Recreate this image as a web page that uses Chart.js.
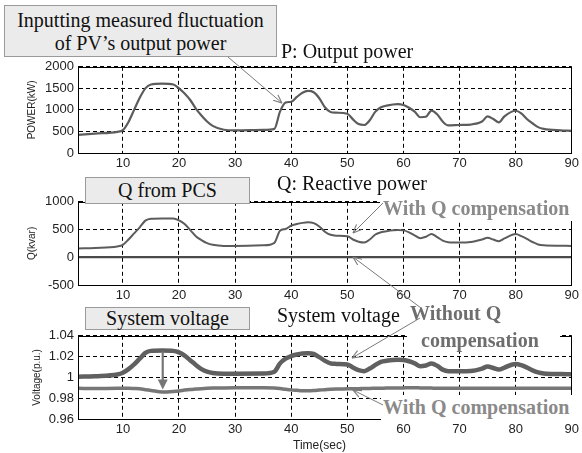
<!DOCTYPE html>
<html>
<head>
<meta charset="utf-8">
<script src="https://cdn.jsdelivr.net/npm/chart.js@4.4.1/dist/chart.umd.min.js"></script>
<style>
  html, body { margin: 0; padding: 0; background: #fff; }
  #wrap { position: relative; width: 582px; height: 453px; overflow: hidden; }
  canvas.plot { position: absolute; left: 0; }
  .note { position: absolute; font-family: "Liberation Serif", "Times New Roman", serif; font-size: 20px; color: #111; white-space: nowrap; }
  .box { background: #ebebeb; border: 1px solid #9a9a9a; box-sizing: border-box; text-align: center; }
  .tag { background: #fff; font-weight: bold; color: #8a8a8a; }
  .axis-name { position: absolute; font-family: "Liberation Sans", Arial, sans-serif; font-size: 12px; color: #222; white-space: nowrap; }
  #arrows { position: absolute; left: 0; top: 0; }
</style>
</head>
<body>
<div id="wrap">
  <canvas id="powerChart" class="plot"></canvas>
  <canvas id="reactiveChart" class="plot"></canvas>
  <canvas id="voltageChart" class="plot"></canvas>

  <div class="note box" style="left:4px;top:5px;width:273px;height:52px;line-height:23px;padding-top:3px;">Inputting measured fluctuation<br>of PV’s output power</div>
  <div class="note" style="left:281px;top:39px;line-height:24px;">P: Output power</div>

  <div class="note box" style="left:85px;top:177px;width:165px;height:27px;line-height:25px;">Q from PCS</div>
  <div class="note" style="left:277px;top:171px;line-height:24px;">Q: Reactive power</div>
  <div class="note tag" style="left:380px;top:197px;width:196px;height:24px;line-height:22px;padding-left:3px;box-sizing:border-box;">With Q compensation</div>

  <div class="note box" style="left:85px;top:307px;width:165px;height:23px;line-height:21px;">System voltage</div>
  <div class="note" style="left:277px;top:303px;line-height:24px;">System voltage</div>
  <div class="note tag" style="left:407px;top:300px;width:153px;height:51px;color:#6e6e6e;line-height:27px;">
    <span style="padding-left:3px;">Without Q</span><br><span style="padding-left:14px;">compensation</span>
  </div>
  <div class="note tag" style="left:381px;top:395px;width:197px;height:26px;line-height:24px;padding-left:2px;box-sizing:border-box;">With Q compensation</div>

  <div class="axis-name" style="left:293px;top:438px;line-height:14px;">Time(sec)</div>

  <svg id="arrows" width="582" height="453">
    <defs>
      <marker id="vhead" viewBox="0 0 10 10" refX="9.5" refY="5" markerWidth="9" markerHeight="9" orient="auto" markerUnits="userSpaceOnUse">
        <path d="M0,1 L9.5,5 L0,9" fill="none" stroke="#7a7a7a" stroke-width="1.2"/>
      </marker>
    </defs>
    <g stroke="#7a7a7a" stroke-width="1" fill="none" marker-end="url(#vhead)">
      <line x1="228" y1="57" x2="282" y2="103"/>
      <line x1="383" y1="203" x2="353" y2="233"/>
      <line x1="421" y1="308" x2="353" y2="257"/>
      <line x1="420" y1="318" x2="352" y2="358"/>
      <line x1="383" y1="405" x2="353" y2="390"/>
    </g>
  </svg>
</div>

<script>
// three stacked time plots: P, Q, V

/* ==============================
   DATA
============================== */
const timeSec = [2, 5, 9, 10, 11, 12, 13, 14, 15, 17, 19, 20, 21, 22, 23, 24, 25, 26, 28, 30,
  35, 37, 38, 39, 40, 41, 42, 43, 44, 45, 46, 47, 48, 50, 51, 52, 53, 54, 55, 56,
  57, 59, 60, 61, 62, 63, 64, 65, 66, 67, 68, 70, 72, 74, 75, 76, 77, 78, 80, 81,
  82, 83, 84, 85, 88, 90];

const powerKW = [420, 450, 490, 530, 720, 1000, 1280, 1500, 1590, 1610, 1590, 1500, 1380, 1230, 1030, 870, 730, 630, 540, 525,
  535, 560, 960, 1170, 1190, 1300, 1400, 1440, 1410, 1270, 1060, 950, 935, 910, 780, 670, 650, 760, 960, 1060,
  1100, 1135, 1115, 1050, 960, 830, 840, 985, 900, 730, 640, 650, 660, 730, 850, 790, 710, 850, 980, 920,
  790, 690, 600, 560, 525, 515];

const reactiveWithQ = [160, 168, 195, 225, 320, 430, 540, 660, 695, 700, 700, 665, 600, 490, 380, 310, 255, 225, 205, 205,
  215, 260, 480, 510, 570, 600, 620, 630, 615, 555, 460, 405, 390, 380, 320, 280, 265, 320, 410, 450,
  470, 490, 485, 450, 395, 345, 370, 420, 365, 300, 272, 265, 275, 320, 350, 320, 290, 340, 420, 380,
  330, 275, 230, 215, 208, 205];

const reactiveOffTime = [2, 90];
const reactiveWithoutQ = [3, 3];

const voltWithoutQ = [1.0006, 1.0012, 1.0028, 1.0045, 1.008, 1.0125, 1.018, 1.0235, 1.0255, 1.0258, 1.0255, 1.024, 1.021, 1.0165, 1.012, 1.008, 1.0055, 1.0042, 1.0036, 1.0036,
  1.0038, 1.0055, 1.0135, 1.018, 1.0205, 1.022, 1.023, 1.0232, 1.0225, 1.0195, 1.016, 1.0135, 1.013, 1.0125, 1.0095, 1.007, 1.006, 1.0085, 1.012, 1.015,
  1.016, 1.017, 1.0167, 1.0155, 1.0135, 1.0108, 1.0115, 1.0133, 1.0112, 1.0075, 1.006, 1.006, 1.0062, 1.0085, 1.0105, 1.009, 1.0075, 1.0095, 1.013, 1.0118,
  1.0095, 1.0068, 1.0048, 1.0038, 1.0032, 1.003];

const voltWithQ = [0.9895, 0.9893, 0.9895, 0.9895, 0.9895, 0.9893, 0.989, 0.9882, 0.9875, 0.986, 0.9865, 0.987, 0.9878, 0.9884, 0.9888, 0.9892, 0.9895, 0.9897, 0.9899, 0.99,
  0.99, 0.9898, 0.9893, 0.9886, 0.988, 0.9876, 0.9872, 0.9872, 0.9874, 0.9878, 0.9882, 0.9886, 0.9888, 0.989, 0.9891, 0.9892, 0.9893, 0.9894, 0.9895, 0.9896,
  0.9897, 0.9898, 0.9899, 0.99, 0.99, 0.9899, 0.9898, 0.9897, 0.9896, 0.9896, 0.9896, 0.9896, 0.9896, 0.9896, 0.9896, 0.9896, 0.9896, 0.9896, 0.9896, 0.9896,
  0.9896, 0.9896, 0.9896, 0.9896, 0.9896, 0.9896];

const xTicks = [10, 20, 30, 40, 50, 60, 70, 80, 90];
const powerTicks = [0, 500, 1000, 1500, 2000];
const powerTickLabels = ["0", "500", "1000", "1500", "2000"];
const reactiveTicks = [-500, 0, 500, 1000];
const reactiveTickLabels = ["-500", "0", "500", "1000"];
const voltTicks = [0.96, 0.98, 1.0, 1.02, 1.04];
const voltTickLabels = ["0.96", "0.98", "1", "1.02", "1.04"];

// down arrow in the voltage plot (annotation)
const DROP_T = 17.1, DROP_FROM = 1.025, DROP_TO = 0.9883;

/* ==============================
   HELPERS
============================== */
const SANS = "'Liberation Sans', Arial, sans-serif";
const PAD_TOP = 8;
const X_AXIS_H = 22;

function points(xs, ys) {
  return xs.map((t, i) => ({ x: t, y: ys[i] }));
}

function line(xs, ys, color, width) {
  return {
    data: points(xs, ys),
    borderColor: color,
    borderWidth: width,
    pointRadius: 0,
    cubicInterpolationMode: "monotone",
    fill: false
  };
}

const framePlugin = {
  id: "frame",
  afterDatasetsDraw(chart) {
    const { ctx, chartArea: a } = chart;
    ctx.save();
    ctx.strokeStyle = "#000";
    ctx.lineWidth = 1;
    ctx.strokeRect(Math.round(a.left) + 0.5, Math.round(a.top) + 0.5,
      Math.round(a.right - a.left) - 1, Math.round(a.bottom - a.top));
    ctx.restore();
  }
};

const dropArrow = {
  id: "dropArrow",
  afterDatasetsDraw(chart) {
    const { ctx, scales: { x, y } } = chart;
    const px = x.getPixelForValue(DROP_T);
    const y1 = y.getPixelForValue(DROP_FROM);
    const y2 = y.getPixelForValue(DROP_TO);
    ctx.save();
    ctx.strokeStyle = ctx.fillStyle = "#767676";
    ctx.lineWidth = 2.2;
    ctx.beginPath();
    ctx.moveTo(px, y1);
    ctx.lineTo(px, y2 - 8);
    ctx.stroke();
    ctx.beginPath();
    ctx.moveTo(px - 5, y2 - 10);
    ctx.lineTo(px + 5, y2 - 10);
    ctx.lineTo(px, y2);
    ctx.closePath();
    ctx.fill();
    ctx.restore();
  }
};

function makePlot(id, plotTop, plotBottom, yTicks, yLabels, yTitle, titleGap, datasets, extra) {
  const canvas = document.getElementById(id);
  canvas.width = 582;
  canvas.height = PAD_TOP + (plotBottom - plotTop) + X_AXIS_H;
  canvas.style.top = (plotTop - PAD_TOP) + "px";

  const gridOpts = { color: "#000", lineWidth: 1, drawTicks: false };
  const borderOpts = { color: "#000", width: 1, dash: [4, 3] };
  const tickFont = { family: SANS, size: 13 };

  return new Chart(canvas.getContext("2d"), {
    type: "line",
    data: { datasets },
    plugins: [framePlugin].concat(extra || []),
    options: {
      responsive: false,
      animation: false,
      events: [],
      layout: { padding: { top: PAD_TOP, right: 7, left: 0, bottom: 0 } },
      plugins: { legend: { display: false }, tooltip: { enabled: false } },
      scales: {
        x: {
          type: "linear",
          min: 2,
          max: 90,
          afterBuildTicks: s => { s.ticks = xTicks.map(v => ({ value: v })); },
          afterFit: s => { s.height = X_AXIS_H; },
          grid: gridOpts,
          border: borderOpts,
          ticks: { color: "#222", font: tickFont, padding: 3, maxRotation: 0, autoSkip: false, callback: v => String(v) }
        },
        y: {
          type: "linear",
          min: yTicks[0],
          max: yTicks[yTicks.length - 1],
          afterBuildTicks: s => { s.ticks = yTicks.map(v => ({ value: v })); },
          afterFit: s => { s.width = 78; },
          grid: gridOpts,
          border: borderOpts,
          ticks: { color: "#222", font: tickFont, padding: 4, autoSkip: false, callback: v => yLabels[yTicks.indexOf(v)] },
          title: { display: true, text: yTitle, color: "#222", font: { family: SANS, size: 10 }, padding: { top: titleGap, bottom: 0 } }
        }
      }
    }
  });
}

/* ==============================
   CHARTS
============================== */
makePlot("powerChart", 63, 153, powerTicks, powerTickLabels, "POWER(kW)", 26, [
  line(timeSec, powerKW, "#5c5c5c", 2.2)
]);

makePlot("reactiveChart", 198, 285, reactiveTicks, reactiveTickLabels, "Q(kvar)", 26, [
  line(reactiveOffTime, reactiveWithoutQ, "#4a4a4a", 2.2),
  line(timeSec, reactiveWithQ, "#5c5c5c", 2)
]);

makePlot("voltageChart", 332, 419, voltTicks, voltTickLabels, "Voltage(p.u.)", 31, [
  line(timeSec, voltWithQ, "#777777", 3.5),
  line(timeSec, voltWithoutQ, "#606060", 4.5)
], [dropArrow]);
</script>
</body>
</html>
